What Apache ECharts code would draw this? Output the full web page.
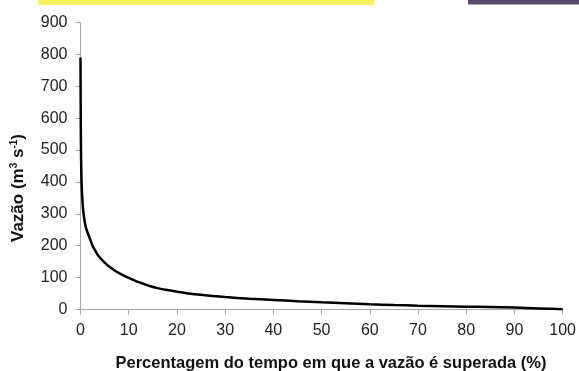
<!DOCTYPE html>
<html>
<head>
<meta charset="utf-8">
<script src="https://cdn.jsdelivr.net/npm/echarts@6/dist/echarts.min.js"></script>
<style>html,body{margin:0;padding:0;background:#fff}#c{width:579px;height:371px}</style>
</head>
<body>
<div id="c"></div>
<script>
const pct = [0, 0.02, 0.05, 0.1, 0.15, 0.2, 0.3, 0.4, 0.5, 0.7, 1, 1.3, 1.7, 2, 2.5, 3, 3.5, 4, 5, 6, 7, 8, 9, 10, 11.5, 13, 14.5, 16, 18, 20, 22.5, 25, 27.5, 30, 35, 40, 45, 50, 55, 60, 65, 70, 75, 80, 85, 90, 95, 100];
const flow = [790, 700, 600, 500, 445, 410, 370, 342, 320, 292, 265, 248, 232, 220, 200, 186, 173, 163, 147, 134, 123, 114, 106, 99, 89, 81, 73, 67, 61, 56, 50, 46, 42, 39, 34, 30, 26, 22.5, 19.5, 16.5, 14, 12, 10.5, 9, 7.5, 6, 3.5, 1];
const xTicks = [0, 10, 20, 30, 40, 50, 60, 70, 80, 90, 100];
const yTicks = [0, 100, 200, 300, 400, 500, 600, 700, 800, 900];
const xTitle = 'Percentagem do tempo em que a vazão é superada (%)';

const chart = echarts.init(document.getElementById('c'), null, {renderer: 'canvas'});
const font = 'Liberation Sans, Arial, sans-serif';
chart.setOption({
  animation: false,
  backgroundColor: '#fff',
  grid: {left: 80.5, right: 15.7, top: 22.5, bottom: 61.5},
  xAxis: {
    type: 'value', min: 0, max: 100, interval: 10,
    axisLine: {lineStyle: {color: '#a6a6a6', width: 1}},
    axisTick: {show: true, length: 5, lineStyle: {color: '#a6a6a6'}},
    splitLine: {show: false},
    axisLabel: {color: '#222', fontSize: 16, fontFamily: font, margin: 13}
  },
  yAxis: {
    type: 'value', min: 0, max: 900, interval: 100,
    axisLine: {show: true, lineStyle: {color: '#a6a6a6', width: 1}},
    axisTick: {show: true, length: 5, lineStyle: {color: '#a6a6a6'}},
    splitLine: {show: false},
    axisLabel: {color: '#222', fontSize: 16, fontFamily: font, margin: 13}
  },
  series: [{
    type: 'line', smooth: 0.2, showSymbol: false,
    data: pct.map((p, i) => [p, flow[i]]),
    lineStyle: {color: '#000', width: 2.5}
  }],
  graphic: [
    {type: 'rect', left: 38, top: 0, shape: {width: 336, height: 5}, style: {fill: '#f9ef5f'}, silent: true},
    {type: 'rect', left: 468, top: 0, shape: {width: 111, height: 4.5}, style: {fill: '#5c4a72'}, silent: true},
    {type: 'text', x: 331, y: 363,
      style: {text: xTitle, font: 'bold 16.5px Liberation Sans, Arial, sans-serif', fill: '#111', align: 'center', verticalAlign: 'middle'}},
    {type: 'text', x: 18, y: 188, rotation: Math.PI / 2,
      style: {
        text: '{n|Vazão (m}{s|3}{n| s}{s|-1}{n|)}',
        align: 'center', verticalAlign: 'middle',
        rich: {
          n: {font: 'bold 17px Liberation Sans, Arial, sans-serif', fill: '#111', verticalAlign: 'bottom'},
          s: {font: 'bold 10px Liberation Sans, Arial, sans-serif', fill: '#111', verticalAlign: 'top', padding: [0,0,8,0]}
        },
        fill: '#111'
      }}
  ]
});
</script>
</body>
</html>
